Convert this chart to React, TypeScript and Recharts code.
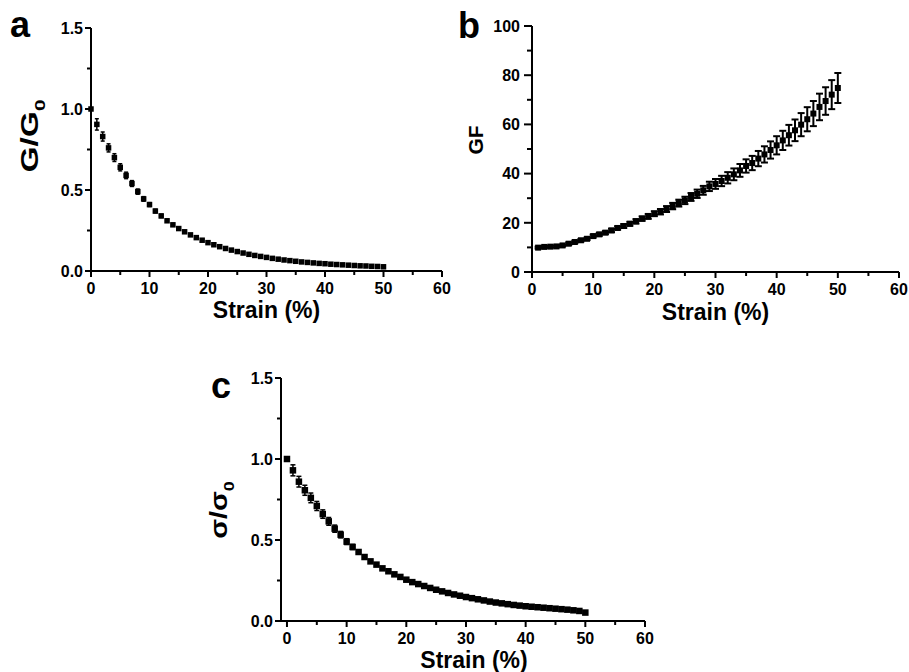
import React from 'react';
import { ScatterChart, Scatter, XAxis, YAxis, ErrorBar, Label } from 'recharts';

const FONT = '"Liberation Sans", Arial, Helvetica, sans-serif';

// ---------- Panel a : G/G0 vs strain ----------
const strainA = [0, 1, 2, 3, 4, 5, 6, 7, 8, 9, 10, 11, 12, 13, 14, 15, 16, 17, 18, 19, 20, 21, 22, 23, 24, 25, 26, 27, 28, 29, 30, 31, 32, 33, 34, 35, 36, 37, 38, 39, 40, 41, 42, 43, 44, 45, 46, 47, 48, 49, 50];
const gRatio = [1.0, 0.905, 0.83, 0.76, 0.7, 0.64, 0.59, 0.54, 0.49, 0.445, 0.41, 0.37, 0.34, 0.31, 0.285, 0.262, 0.242, 0.223, 0.206, 0.19, 0.175, 0.162, 0.15, 0.139, 0.129, 0.12, 0.111, 0.103, 0.096, 0.09, 0.084, 0.078, 0.073, 0.068, 0.064, 0.06, 0.056, 0.053, 0.05, 0.047, 0.045, 0.042, 0.04, 0.038, 0.036, 0.034, 0.032, 0.031, 0.029, 0.028, 0.026];
const gErr = [0, 0.035, 0.028, 0.025, 0.024, 0.022, 0.02, 0.018, 0.016, 0.014, 0.012, 0.011, 0.01, 0.009, 0.008, 0.008, 0.007, 0.007, 0.006, 0.006, 0.006, 0.005, 0.005, 0.005, 0.005, 0.005, 0.004, 0.004, 0.004, 0.004, 0.004, 0.004, 0.004, 0.003, 0.003, 0.003, 0.003, 0.003, 0.003, 0.003, 0.003, 0.003, 0.003, 0.003, 0.003, 0.003, 0.003, 0.003, 0.003, 0.003, 0.003];

// ---------- Panel b : GF vs strain ----------
const strainB = [1, 2, 3, 4, 5, 6, 7, 8, 9, 10, 11, 12, 13, 14, 15, 16, 17, 18, 19, 20, 21, 22, 23, 24, 25, 26, 27, 28, 29, 30, 31, 32, 33, 34, 35, 36, 37, 38, 39, 40, 41, 42, 43, 44, 45, 46, 47, 48, 49, 50];
const gf = [9.9, 10.2, 10.3, 10.4, 10.8, 11.5, 12.2, 12.9, 13.5, 14.6, 15.3, 16.0, 16.9, 17.9, 18.7, 19.6, 20.6, 21.7, 22.6, 23.7, 24.5, 25.6, 26.8, 28.0, 29.1, 30.5, 31.8, 33.2, 34.8, 35.8, 37.0, 38.3, 39.7, 41.3, 43.1, 44.3, 46.1, 47.8, 49.6, 51.5, 53.5, 55.6, 57.6, 59.9, 62.1, 64.4, 67.1, 69.5, 72.1, 74.8];
const gfErr = [0.4, 0.4, 0.4, 0.4, 0.4, 0.5, 0.5, 0.5, 0.5, 0.6, 0.6, 0.6, 0.7, 0.7, 0.8, 0.8, 0.9, 0.9, 1.0, 1.0, 1.1, 1.2, 1.3, 1.4, 1.5, 1.6, 1.7, 1.8, 1.9, 2.0, 2.1, 2.3, 2.4, 2.6, 2.7, 2.9, 3.1, 3.3, 3.5, 3.7, 3.9, 4.2, 4.4, 4.7, 4.9, 5.1, 5.4, 5.6, 5.9, 6.1];

// ---------- Panel c : sigma/sigma0 vs strain ----------
const strainC = [0, 1, 2, 3, 4, 5, 6, 7, 8, 9, 10, 11, 12, 13, 14, 15, 16, 17, 18, 19, 20, 21, 22, 23, 24, 25, 26, 27, 28, 29, 30, 31, 32, 33, 34, 35, 36, 37, 38, 39, 40, 41, 42, 43, 44, 45, 46, 47, 48, 49, 50];
const sRatio = [1.0, 0.93, 0.86, 0.807, 0.76, 0.71, 0.66, 0.615, 0.57, 0.533, 0.49, 0.457, 0.426, 0.395, 0.368, 0.348, 0.325, 0.307, 0.288, 0.272, 0.255, 0.24, 0.228, 0.216, 0.204, 0.193, 0.183, 0.173, 0.164, 0.156, 0.148, 0.141, 0.134, 0.127, 0.12, 0.114, 0.109, 0.104, 0.099, 0.095, 0.091, 0.088, 0.085, 0.082, 0.079, 0.076, 0.073, 0.07, 0.066, 0.062, 0.052];
const sErr = [0, 0.034, 0.033, 0.031, 0.03, 0.028, 0.026, 0.024, 0.022, 0.02, 0.018, 0.016, 0.014, 0.012, 0.011, 0.01, 0.009, 0.008, 0.008, 0.007, 0.007, 0.006, 0.006, 0.006, 0.005, 0.005, 0.005, 0.005, 0.004, 0.004, 0.004, 0.004, 0.004, 0.004, 0.004, 0.004, 0.004, 0.004, 0.004, 0.004, 0.004, 0.004, 0.004, 0.004, 0.004, 0.004, 0.004, 0.004, 0.004, 0.004, 0.005];

// ---------- Ticks ----------
const xTicksAll = [0, 5, 10, 15, 20, 25, 30, 35, 40, 45, 50, 55, 60];
const xTicksMajor = [0, 10, 20, 30, 40, 50, 60];
const ratioTicksAll = [0, 0.25, 0.5, 0.75, 1.0, 1.25, 1.5];
const ratioTicksMajor = [0, 0.5, 1.0, 1.5];
const gfTicksAll = [0, 10, 20, 30, 40, 50, 60, 70, 80, 90, 100];
const gfTicksMajor = [0, 20, 40, 60, 80, 100];

const toRows = (xs: number[], ys: number[], es: number[]) =>
  xs.map((x, i) => ({ x, y: ys[i], err: es[i] }));

const dataA = toRows(strainA, gRatio, gErr);
const dataB = toRows(strainB, gf, gfErr);
const dataC = toRows(strainC, sRatio, sErr);

const TICK_FS = 16;

const XTick = (props: any) => {
  const { x, y, payload, majors } = props;
  const v = payload.value;
  const isMajor = majors.includes(v);
  return (
    <g>
      <line x1={x} x2={x} y1={y} y2={y + (isMajor ? 6 : 4)} stroke="#000" strokeWidth={2} />
      {isMajor && (
        <text x={x} y={y + 23} textAnchor="middle" fontFamily={FONT} fontWeight="bold" fontSize={TICK_FS} fill="#000">
          {v}
        </text>
      )}
    </g>
  );
};

const YTick = (props: any) => {
  const { x, y, payload, majors, fmt, majLen = 6, minLen = 4, gap = 8 } = props;
  const v = payload.value;
  const isMajor = majors.includes(v);
  return (
    <g>
      <line x1={x} x2={x - (isMajor ? majLen : minLen)} y1={y} y2={y} stroke="#000" strokeWidth={2} />
      {isMajor && (
        <text x={x - gap} y={y} dy="0.36em" textAnchor="end" fontFamily={FONT} fontWeight="bold" fontSize={TICK_FS} fill="#000">
          {fmt(v)}
        </text>
      )}
    </g>
  );
};

const square = (size: number) => (p: any) => (
  <rect x={p.cx - size / 2} y={p.cy - size / 2} width={size} height={size} fill="#000" />
);

const xTitle = (dx: number, dy: number) => (p: any) => {
  const vb = p.viewBox || {};
  return (
    <text x={vb.x + vb.width / 2 + dx} y={vb.y + dy} textAnchor="middle" fontFamily={FONT} fontWeight="bold" fontSize={23} fill="#000">
      Strain (%)
    </text>
  );
};

const yTitle = (main: string, sub: string | null, offX: number, offY: number, size: number, stretch: number) => (p: any) => {
  const vb = p.viewBox || {};
  const px = vb.x + vb.width - offX;
  const py = vb.y + offY;
  return (
    <text
      transform={`translate(${px},${py}) rotate(-90) scale(${stretch},1)`}
      x={0}
      y={0}
      textAnchor="middle"
      fontFamily={FONT}
      fontWeight="bold"
      fontSize={size}
      fill="#000"
    >
      <tspan>{main}</tspan>
      {sub && (
        <tspan fontSize={size * 0.62} dy={size * 0.3}>
          {sub}
        </tspan>
      )}
    </text>
  );
};

const fmt1 = (v: number) => v.toFixed(1);
const fmt0 = (v: number) => String(v);

const axisLine = { stroke: '#000', strokeWidth: 2 };

export default function App() {
  return (
    <div style={{ position: 'absolute', left: 0, top: 0, width: 909, height: 672, overflow: 'hidden', background: '#fff' }}>
      {/* Panel a */}
      <div style={{ position: 'absolute', left: 0, top: 0 }}>
        <ScatterChart width={460} height={330} margin={{ top: 28, right: 18, bottom: 29, left: 41 }}>
          <XAxis
            type="number"
            dataKey="x"
            domain={[0, 60]}
            ticks={xTicksAll}
            interval={0}
            height={30}
            axisLine={axisLine}
            tickLine={false}
            tickSize={0}
            tickMargin={0}
            tick={(p: any) => <XTick {...p} majors={xTicksMajor} />}
          >
            <Label content={xTitle(0, 47)} />
          </XAxis>
          <YAxis
            type="number"
            dataKey="y"
            domain={[0, 1.5]}
            ticks={ratioTicksAll}
            interval={0}
            width={50}
            axisLine={axisLine}
            tickLine={false}
            tickSize={0}
            tickMargin={0}
            tick={(p: any) => <YTick {...p} majors={ratioTicksMajor} fmt={fmt1} />}
          >
            <Label content={yTitle('G/G', '0', 53, 108, 24, 1.4)} />
          </YAxis>
          <Scatter data={dataA} isAnimationActive={false} shape={square(5.5)}>
            <ErrorBar dataKey="err" direction="y" width={2} stroke="#000" strokeWidth={1.5} isAnimationActive={false} />
          </Scatter>
        </ScatterChart>
      </div>

      {/* Panel b */}
      <div style={{ position: 'absolute', left: 460, top: 0 }}>
        <ScatterChart width={449} height={330} margin={{ top: 26, right: 10, bottom: 28, left: 22 }}>
          <XAxis
            type="number"
            dataKey="x"
            domain={[0, 60]}
            ticks={xTicksAll}
            interval={0}
            height={30}
            axisLine={axisLine}
            tickLine={false}
            tickSize={0}
            tickMargin={0}
            tick={(p: any) => <XTick {...p} majors={xTicksMajor} />}
          >
            <Label content={xTitle(0, 48)} />
          </XAxis>
          <YAxis
            type="number"
            dataKey="y"
            domain={[0, 100]}
            ticks={gfTicksAll}
            interval={0}
            width={50}
            axisLine={axisLine}
            tickLine={false}
            tickSize={0}
            tickMargin={0}
            tick={(p: any) => <YTick {...p} majors={gfTicksMajor} fmt={fmt0} majLen={8} minLen={5} gap={12} />}
          >
            <Label content={yTitle('GF', null, 49, 114, 21, 1)} />
          </YAxis>
          <Scatter data={dataB} isAnimationActive={false} shape={square(6)}>
            <ErrorBar dataKey="err" direction="y" width={3.5} stroke="#000" strokeWidth={2} isAnimationActive={false} />
          </Scatter>
        </ScatterChart>
      </div>

      {/* Panel c */}
      <div style={{ position: 'absolute', left: 190, top: 350 }}>
        <ScatterChart width={480} height={322} margin={{ top: 28, right: 25, bottom: 21, left: 41 }}>
          <XAxis
            type="number"
            dataKey="x"
            domain={[-1, 60]}
            ticks={xTicksAll}
            interval={0}
            height={30}
            axisLine={axisLine}
            tickLine={false}
            tickSize={0}
            tickMargin={0}
            tick={(p: any) => <XTick {...p} majors={xTicksMajor} />}
          >
            <Label content={xTitle(11, 47)} />
          </XAxis>
          <YAxis
            type="number"
            dataKey="y"
            domain={[0, 1.5]}
            ticks={ratioTicksAll}
            interval={0}
            width={50}
            axisLine={axisLine}
            tickLine={false}
            tickSize={0}
            tickMargin={0}
            tick={(p: any) => <YTick {...p} majors={ratioTicksMajor} fmt={fmt1} />}
          >
            <Label content={yTitle('σ/σ', '0', 54, 132, 24, 1.2)} />
          </YAxis>
          <Scatter data={dataC} isAnimationActive={false} shape={square(6.5)}>
            <ErrorBar dataKey="err" direction="y" width={2.5} stroke="#000" strokeWidth={1.5} isAnimationActive={false} />
          </Scatter>
        </ScatterChart>
      </div>

      {/* Panel letters */}
      <svg width={909} height={672} style={{ position: 'absolute', left: 0, top: 0, pointerEvents: 'none' }}>
        <text x={10} y={37} fontFamily={FONT} fontWeight="bold" fontSize={36} fill="#000">a</text>
        <text x={458} y={38} fontFamily={FONT} fontWeight="bold" fontSize={36} fill="#000">b</text>
        <text x={211} y={398} fontFamily={FONT} fontWeight="bold" fontSize={36} fill="#000">c</text>
      </svg>
    </div>
  );
}
